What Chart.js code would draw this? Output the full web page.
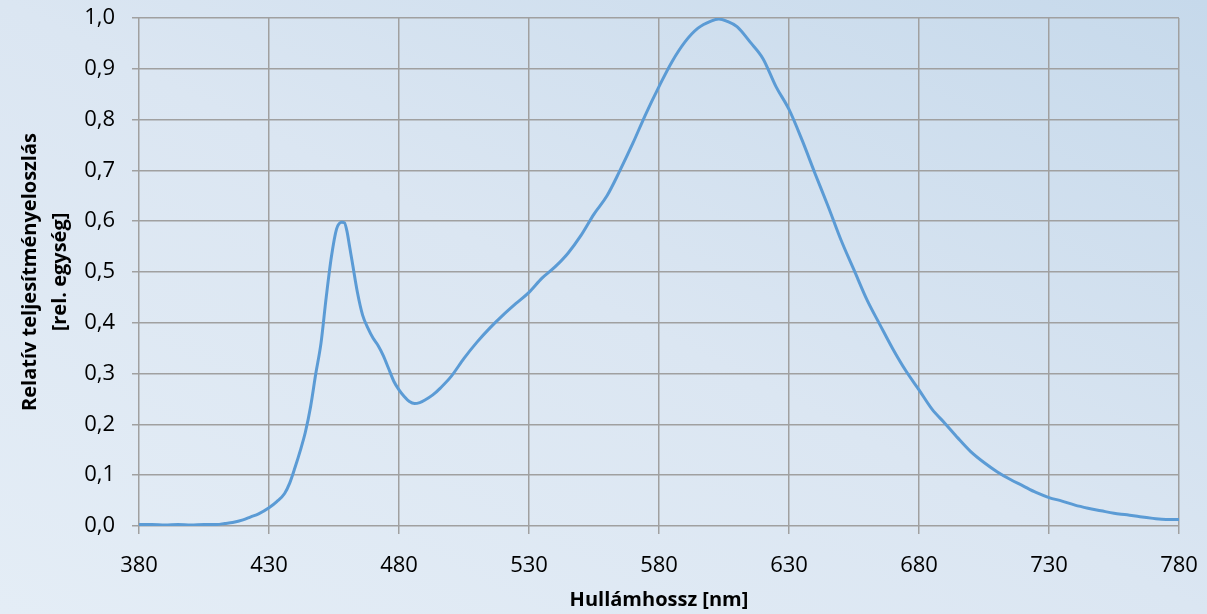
<!DOCTYPE html>
<html>
<head>
<meta charset="utf-8">
<script src="https://cdn.jsdelivr.net/npm/chart.js@4"></script>
<style>
html,body{margin:0;padding:0;background:#dfe9f4;}
#wrap{position:relative;width:1207px;height:614px;}
</style>
</head>
<body>
<div id="wrap"><canvas id="c" width="1207" height="614"></canvas></div>
<script>
const wavelengths = [380,385,390,395,400,405,410,413,416,420,423,426,430,433,436,438,440,442,444,446,448,450,452,454,456,458,459,460,461,462,464,466,468,470,472,474,476,478,480,482,484,486,488,490,493,496,500,505,510,515,520,525,530,535,540,545,550,555,560,565,570,575,580,585,590,595,600,603,606,610,615,620,625,630,635,640,645,650,655,660,665,670,675,680,685,690,695,700,705,710,715,720,725,730,735,740,745,750,755,760,765,770,775,780];
const power = [0.003,0.003,0.002,0.003,0.002,0.003,0.003,0.005,0.007,0.012,0.018,0.024,0.036,0.048,0.064,0.085,0.115,0.148,0.185,0.235,0.30,0.36,0.45,0.53,0.585,0.598,0.597,0.58,0.55,0.52,0.46,0.415,0.39,0.37,0.355,0.335,0.31,0.285,0.268,0.255,0.245,0.241,0.243,0.248,0.258,0.272,0.294,0.33,0.362,0.39,0.415,0.438,0.46,0.488,0.51,0.537,0.572,0.614,0.65,0.70,0.754,0.812,0.865,0.914,0.953,0.98,0.994,0.998,0.994,0.983,0.953,0.92,0.865,0.82,0.76,0.694,0.63,0.563,0.504,0.445,0.396,0.348,0.305,0.268,0.23,0.202,0.173,0.146,0.125,0.107,0.092,0.079,0.066,0.056,0.049,0.041,0.035,0.03,0.025,0.022,0.018,0.015,0.013,0.013];
const xTicks = [380,430,480,530,580,630,680,730,780];
const yTicks = [0,0.1,0.2,0.3,0.4,0.5,0.6,0.7,0.8,0.9,1.0];
const xTitle = 'Hullámhossz [nm]';
const yTitle = ['Relatív teljesítményeloszlás','[rel. egység]'];

const bgPlugin = {
  id:'bg',
  beforeDraw(chart){
    const ctx = chart.ctx, w = chart.width, h = chart.height;
    const g = ctx.createLinearGradient(355.5,794.6,851.5,-180.6);
    g.addColorStop(0,'#e4edf6');
    g.addColorStop(0.5,'#dbe6f2');
    g.addColorStop(1,'#c6d9eb');
    ctx.save();
    ctx.fillStyle = g;
    ctx.fillRect(0,0,w,h);
    ctx.restore();
  }
};

const gridColor = '#a0a0a0';
new Chart(document.getElementById('c'), {
  type:'line',
  data:{
    datasets:[{
      data: wavelengths.map((x,i)=>({x:x,y:power[i]})),
      borderColor:'#5b9bd5',
      borderWidth:3,
      pointRadius:0,
      fill:false,
      cubicInterpolationMode:'monotone'
    }]
  },
  options:{
    responsive:false,
    animation:false,
    layout:{padding:{left:0,right:28,top:18,bottom:0}},
    plugins:{legend:{display:false},tooltip:{enabled:false}},
    scales:{
      x:{
        type:'linear', min:380, max:780,
        afterBuildTicks(s){ s.ticks = xTicks.map(v=>({value:v})); },
        afterFit(s){ s.height = 88; s.paddingLeft = 0; s.paddingRight = 0; },
        grid:{color:gridColor,lineWidth:1.5,tickLength:8,drawTicks:true},
        border:{display:false},
        ticks:{color:'#000',font:{family:'Open Sans',size:22},padding:19,maxRotation:0,
          callback:v=>String(v)},
        title:{display:true,text:xTitle,color:'#000',font:{family:'Open Sans',size:20,weight:'bold',lineHeight:1.2},padding:{top:0,bottom:2}}
      },
      y:{
        type:'linear', min:0, max:1,
        afterBuildTicks(s){ s.ticks = yTicks.map(v=>({value:v})); },
        afterFit(s){ s.width = 139; s.paddingTop = 0; s.paddingBottom = 0; },
        grid:{color:gridColor,lineWidth:1.5,tickLength:7},
        border:{display:false},
        ticks:{color:'#000',font:{family:'Open Sans',size:22},padding:17,
          callback:v=>v.toFixed(1).replace('.',',')},
        title:{display:true,text:yTitle,color:'#000',font:{family:'Open Sans',size:20,weight:'bold',lineHeight:1.5},padding:{top:15,bottom:0}}
      }
    }
  },
  plugins:[bgPlugin]
});
</script>
</body>
</html>
